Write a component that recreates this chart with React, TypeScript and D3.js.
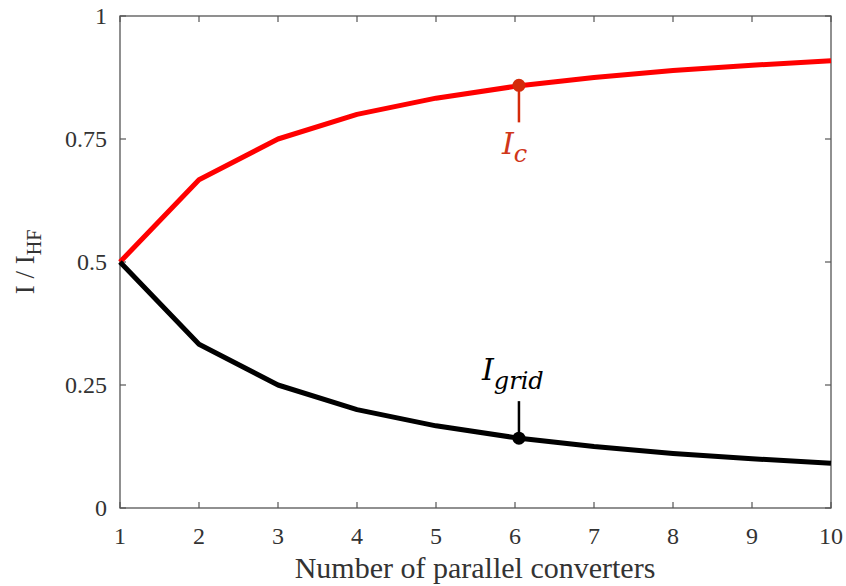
import React from "react";
import { scaleLinear, line } from "d3";

const width = 846;
const height = 586;
const margin = { top: 16, right: 15, bottom: 78, left: 120 };
const innerWidth = width - margin.left - margin.right;
const innerHeight = height - margin.top - margin.bottom;

// number of parallel converters
const converters = [1, 2, 3, 4, 5, 6, 7, 8, 9, 10];
// current share of the converters, I_c / I_HF
const icValues = [0.5, 0.667, 0.75, 0.8, 0.833, 0.857, 0.875, 0.889, 0.9, 0.909];
// current share of the grid, I_grid / I_HF
const igridValues = [0.5, 0.333, 0.25, 0.2, 0.167, 0.143, 0.125, 0.111, 0.1, 0.091];

const yTicks = [0, 0.25, 0.5, 0.75, 1];
const yTickLabels = ["0", "0.25", "0.5", "0.75", "1"];

// marked points on each curve
const markerX = 6.05;
const icMarker = 0.859;
const igridMarker = 0.142;

const serif = "'Liberation Serif', 'Times New Roman', serif";
const mathFont = "'DejaVu Serif', serif";

const App = () => {
  const x = scaleLinear().domain([1, 10]).range([0, innerWidth]);
  const y = scaleLinear().domain([0, 1]).range([innerHeight, 0]);

  const icPts = converters.map((n, i) => [n, icValues[i]] as [number, number]);
  const igPts = converters.map((n, i) => [n, igridValues[i]] as [number, number]);

  const path = line<[number, number]>()
    .x((d) => x(d[0]))
    .y((d) => y(d[1]));

  const axisColor = "#555";

  return (
    <svg
      width={width}
      height={height}
      style={{ position: "absolute", left: 0, top: 0, background: "#fff" }}
    >
      <g transform={`translate(${margin.left}, ${margin.top})`}>
        {/* frame */}
        <rect
          x={0}
          y={0}
          width={innerWidth}
          height={innerHeight}
          fill="none"
          stroke={axisColor}
          strokeWidth={1.3}
        />
        {/* x ticks */}
        {converters.map((t) => (
          <g key={`xt${t}`} transform={`translate(${x(t)},0)`}>
            <line y1={innerHeight} y2={innerHeight - 6} stroke={axisColor} strokeWidth={1.2} />
            <line y1={0} y2={6} stroke={axisColor} strokeWidth={1.2} />
            <text
              y={innerHeight + 36}
              textAnchor="middle"
              fontFamily={serif}
              fontSize={24}
              fill="#333"
            >
              {t}
            </text>
          </g>
        ))}
        {/* y ticks */}
        {yTicks.map((t, i) => (
          <g key={`yt${t}`} transform={`translate(0,${y(t)})`}>
            <line x1={0} x2={6} stroke={axisColor} strokeWidth={1.2} />
            <line x1={innerWidth} x2={innerWidth - 6} stroke={axisColor} strokeWidth={1.2} />
            <text
              x={-13}
              dy="0.33em"
              textAnchor="end"
              fontFamily={serif}
              fontSize={24}
              fill="#333"
            >
              {yTickLabels[i]}
            </text>
          </g>
        ))}

        {/* curves */}
        <path d={path(icPts) ?? ""} fill="none" stroke="#ff0000" strokeWidth={5} strokeLinejoin="round" />
        <path d={path(igPts) ?? ""} fill="none" stroke="#000" strokeWidth={5} strokeLinejoin="round" />

        {/* I_c annotation */}
        <line
          x1={x(markerX)}
          x2={x(markerX)}
          y1={y(icMarker)}
          y2={y(icMarker) + 37}
          stroke="#d42a0a"
          strokeWidth={2.5}
        />
        <circle cx={x(markerX)} cy={y(icMarker)} r={6.5} fill="#d42a0a" />
        <text
          x={x(markerX) - 17}
          y={y(icMarker) + 69}
          fontFamily={mathFont}
          fontStyle="italic"
          fontSize={30}
          fill="#d0361a"
        >
          I
          <tspan dy={8} fontSize={24}>
            c
          </tspan>
        </text>

        {/* I_grid annotation */}
        <line
          x1={x(markerX)}
          x2={x(markerX)}
          y1={y(igridMarker)}
          y2={y(igridMarker) - 37}
          stroke="#000"
          strokeWidth={2.5}
        />
        <circle cx={x(markerX)} cy={y(igridMarker)} r={6.5} fill="#000" />
        <text
          x={x(markerX) - 37}
          y={y(igridMarker) - 58}
          fontFamily={mathFont}
          fontStyle="italic"
          fontSize={30}
          fill="#000"
        >
          I
          <tspan dy={9} fontSize={24}>
            grid
          </tspan>
        </text>

        {/* axis titles */}
        <text
          x={475 - margin.left}
          y={innerHeight + 70}
          textAnchor="middle"
          fontFamily={serif}
          fontSize={30}
          fill="#333"
        >
          Number of parallel converters
        </text>
        <text
          transform={`translate(${-margin.left + 34},${y(0.5)}) rotate(-90)`}
          textAnchor="middle"
          fontFamily={serif}
          fontSize={27}
          fill="#333"
        >
          I / I
          <tspan dy={7} fontSize={20}>
            HF
          </tspan>
        </text>
      </g>
    </svg>
  );
};

export default App;
